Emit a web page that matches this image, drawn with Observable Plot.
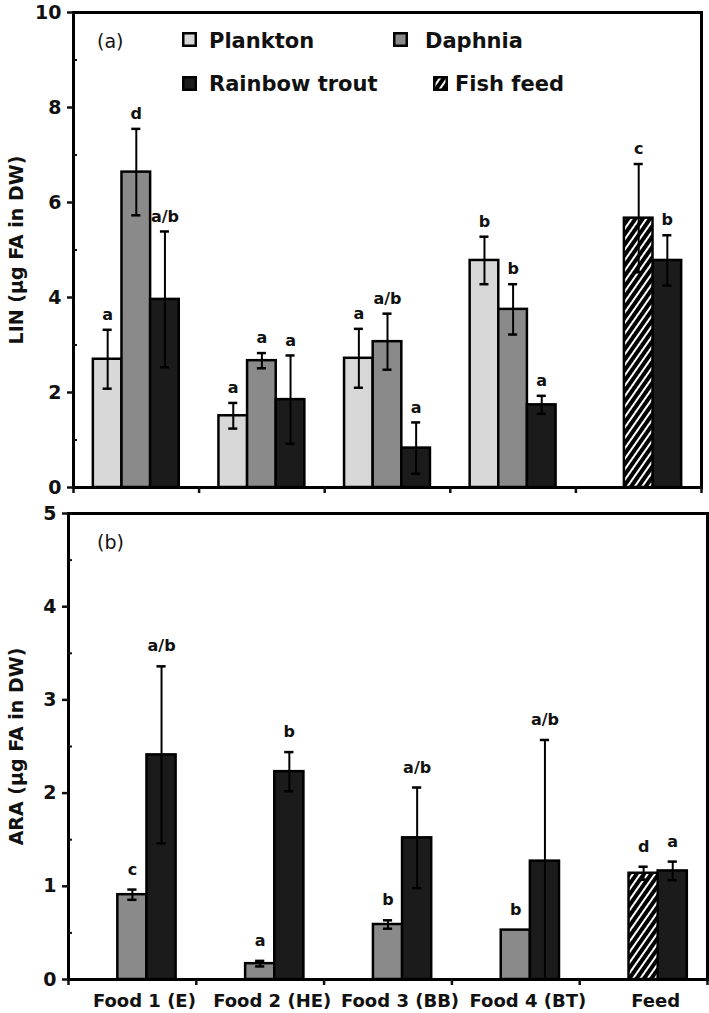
<!DOCTYPE html>
<html><head><meta charset="utf-8">
<script src="https://cdn.jsdelivr.net/npm/d3@7"></script>
<script src="https://cdn.jsdelivr.net/npm/@observablehq/plot@0.6"></script>
<style>
body{margin:0;background:#fff;}
#wrap{position:relative;width:709px;height:1013px;font-family:"DejaVu Sans",sans-serif;color:#111;}
#wrap svg.chart{position:absolute;left:0;overflow:visible;}
.sw{position:absolute;}
.lt{position:absolute;font-weight:bold;font-size:21px;line-height:24px;white-space:nowrap;}
.pl{position:absolute;font-size:19px;line-height:24px;white-space:nowrap;}
</style></head><body>
<svg width="0" height="0" style="position:absolute"><defs>
<pattern id="hatch" patternUnits="userSpaceOnUse" width="6" height="6" patternTransform="rotate(35)">
<rect width="6" height="6" fill="#000"/><rect width="2" height="6" fill="#fff"/></pattern></defs></svg>
<div id="wrap"></div>
<script>
// ---------- data ----------
const categories = ["Food 1 (E)", "Food 2 (HE)", "Food 3 (BB)", "Food 4 (BT)", "Feed"];
const seriesNames = ["Plankton", "Daphnia", "Rainbow trout", "Fish feed"];
const seriesFill = ["#d8d8d8", "#8a8a8a", "#1b1b1b", "url(#hatch)"];
const seriesSlot = [0, 1, 2, 1];

// (a) LIN
const linPlankton = [2.70, 1.51, 2.72, 4.78, null];
const linPlanktonSD = [0.62, 0.27, 0.62, 0.50, null];
const linPlanktonLetters = ["a", "a", "a", "b", null];
const linDaphnia = [6.64, 2.67, 3.07, 3.75, null];
const linDaphniaSD = [0.91, 0.16, 0.59, 0.53, null];
const linDaphniaLetters = ["d", "a", "a/b", "b", null];
const linTrout = [3.96, 1.85, 0.83, 1.74, 4.78];
const linTroutSD = [1.43, 0.93, 0.54, 0.19, 0.53];
const linTroutLetters = ["a/b", "a", "a", "a", "b"];
const linFeed = [null, null, null, null, 5.67];
const linFeedSD = [null, null, null, null, 1.14];
const linFeedLetters = [null, null, null, null, "c"];

// (b) ARA
const araDaphnia = [0.91, 0.17, 0.59, 0.53, null];
const araDaphniaSD = [0.055, 0.03, 0.045, 0, null];
const araDaphniaLetters = ["c", "a", "b", "b", null];
const araTrout = [2.41, 2.23, 1.52, 1.27, 1.165];
const araTroutSD = [0.95, 0.21, 0.54, 1.30, 0.10];
const araTroutLetters = ["a/b", "b", "a/b", "a/b", "a"];
const araFeed = [null, null, null, null, 1.14];
const araFeedSD = [null, null, null, null, 0.07];
const araFeedLetters = [null, null, null, null, "d"];

const linTicks = [0, 2, 4, 6, 8, 10];
const linMinor = [1, 3, 5, 7, 9];
const araTicks = [0, 1, 2, 3, 4, 5];
const araMinor = [0.5, 1.5, 2.5, 3.5, 4.5];

// ---------- build rows ----------
function rowsFor(sIdx, vals, sds, letters) {
  const out = [];
  vals.forEach((v, i) => {
    if (v == null) return;
    out.push({i, category: categories[i], series: seriesNames[sIdx], slot: seriesSlot[sIdx],
      value: v, sd: sds[i] || 0, letter: letters[i]});
  });
  return out;
}
const linRows = [
  ...rowsFor(0, linPlankton, linPlanktonSD, linPlanktonLetters),
  ...rowsFor(1, linDaphnia, linDaphniaSD, linDaphniaLetters),
  ...rowsFor(2, linTrout, linTroutSD, linTroutLetters),
  ...rowsFor(3, linFeed, linFeedSD, linFeedLetters)
];
const araRows = [
  ...rowsFor(1, araDaphnia, araDaphniaSD, araDaphniaLetters),
  ...rowsFor(2, araTrout, araTroutSD, araTroutLetters),
  ...rowsFor(3, araFeed, araFeedSD, araFeedLetters)
];

const BW = 0.228;   // bar width (category units)
const CAP = 0.036;  // error cap half width
const left = d => d.i + 0.5 + (d.slot - 1.5) * BW;
const mid = d => left(d) + BW / 2;

function panel({rows, yMax, ticks, minor, yLabel, height, margins, showX, letterDy, labelDx}) {
  const err = rows.filter(d => d.sd > 0);
  const svg = Plot.plot({
    width: 709, height, ...margins,
    x: {domain: [0, categories.length], axis: null},
    y: {domain: [0, yMax], axis: null},
    color: {domain: seriesNames, range: seriesFill},
    style: {fontFamily: "DejaVu Sans", color: "#111", background: "transparent", overflow: "visible"},
    marks: [
      Plot.rectY(rows, {x1: left, x2: d => left(d) + BW, y1: 0, y2: "value", fill: "series", stroke: "#000", strokeWidth: 2.5}),
      Plot.ruleX(err, {x: mid, y1: d => Math.max(0, d.value - d.sd), y2: d => d.value + d.sd, stroke: "#000", strokeWidth: 2}),
      Plot.ruleY(err, {y: d => d.value + d.sd, x1: d => mid(d) - CAP, x2: d => mid(d) + CAP, stroke: "#000", strokeWidth: 2.5}),
      Plot.ruleY(err.filter(d => d.value - d.sd > 0), {y: d => d.value - d.sd, x1: d => mid(d) - CAP, x2: d => mid(d) + CAP, stroke: "#000", strokeWidth: 2.5}),
      Plot.text(rows.filter(d => d.letter), {x: mid, y: d => d.value + d.sd, text: "letter", dy: -letterDy, fontSize: 16, fontWeight: "bold", fill: "#111"}),
      Plot.frame({stroke: "#000", strokeWidth: 3}),
      Plot.axisY({ticks, tickSize: 6, tickPadding: 6, tickFormat: d => String(d), fontSize: 19, fontWeight: "bold", label: null, strokeWidth: 2.5, fill: "#111"}),
      Plot.axisY({ticks: minor, tickSize: 4, dx: 4, tickFormat: () => "", label: null, strokeWidth: 2}),
      Plot.axisX({ticks: d3.range(categories.length + 1), tickSize: 6, tickFormat: () => "", label: null, strokeWidth: 2.5}),
      showX ? Plot.axisX({ticks: categories.map((c, i) => i + 0.5), tickSize: 0, tickPadding: 15,
        tickFormat: v => categories[Math.floor(v)], fontSize: 18, fontWeight: "bold", dx: 12, label: null, fill: "#111"}) : null,
      Plot.text([yLabel], {frameAnchor: "left", text: d => d, rotate: -90, textAnchor: "middle", dx: labelDx, fontSize: 19, fontWeight: "bold", fill: "#111"})
    ]
  });
  svg.classList.add("chart");
  return svg;
}

const wrap = document.getElementById("wrap");
const top1 = panel({rows: linRows, yMax: 10, ticks: linTicks, minor: linMinor, yLabel: "LIN (µg FA in DW)",
  height: 500, margins: {marginLeft: 73, marginRight: 8, marginTop: 12, marginBottom: 13},
  showX: false, letterDy: 15, labelDx: -57});
top1.style.top = "0px";
wrap.appendChild(top1);
const bot = panel({rows: araRows, yMax: 5, ticks: araTicks, minor: araMinor, yLabel: "ARA (µg FA in DW)",
  height: 513, margins: {marginLeft: 68, marginRight: 2, marginTop: 13, marginBottom: 34},
  showX: true, letterDy: 20, labelDx: -52});
bot.style.top = "500px";
wrap.appendChild(bot);

// ---------- legend & panel labels (overlay) ----------
const legendItems = [
  {s: 0, sx: 182, sy: 32, tx: 209, ty: 29},
  {s: 1, sx: 393, sy: 32, tx: 425, ty: 29},
  {s: 2, sx: 182, sy: 76, tx: 209, ty: 72},
  {s: 3, sx: 433, sy: 76, tx: 455, ty: 72}
];
legendItems.forEach(it => {
  const ns = "http://www.w3.org/2000/svg";
  const sw = document.createElementNS(ns, "svg");
  sw.setAttribute("width", 15); sw.setAttribute("height", 15);
  sw.setAttribute("class", "sw");
  sw.style.left = it.sx + "px"; sw.style.top = it.sy + "px";
  const r = document.createElementNS(ns, "rect");
  r.setAttribute("x", 1.25); r.setAttribute("y", 1.25); r.setAttribute("width", 12.5); r.setAttribute("height", 12.5);
  r.setAttribute("fill", seriesFill[it.s]); r.setAttribute("stroke", "#000"); r.setAttribute("stroke-width", 2.5);
  sw.appendChild(r);
  wrap.appendChild(sw);
  const t = document.createElement("div");
  t.className = "lt"; t.textContent = seriesNames[it.s];
  t.style.left = it.tx + "px"; t.style.top = it.ty + "px";
  wrap.appendChild(t);
});
[["(a)", 97, 29], ["(b)", 97, 530]].forEach(([txt, x, y]) => {
  const d = document.createElement("div");
  d.className = "pl"; d.textContent = txt;
  d.style.left = x + "px"; d.style.top = y + "px";
  wrap.appendChild(d);
});
</script>
</body></html>
